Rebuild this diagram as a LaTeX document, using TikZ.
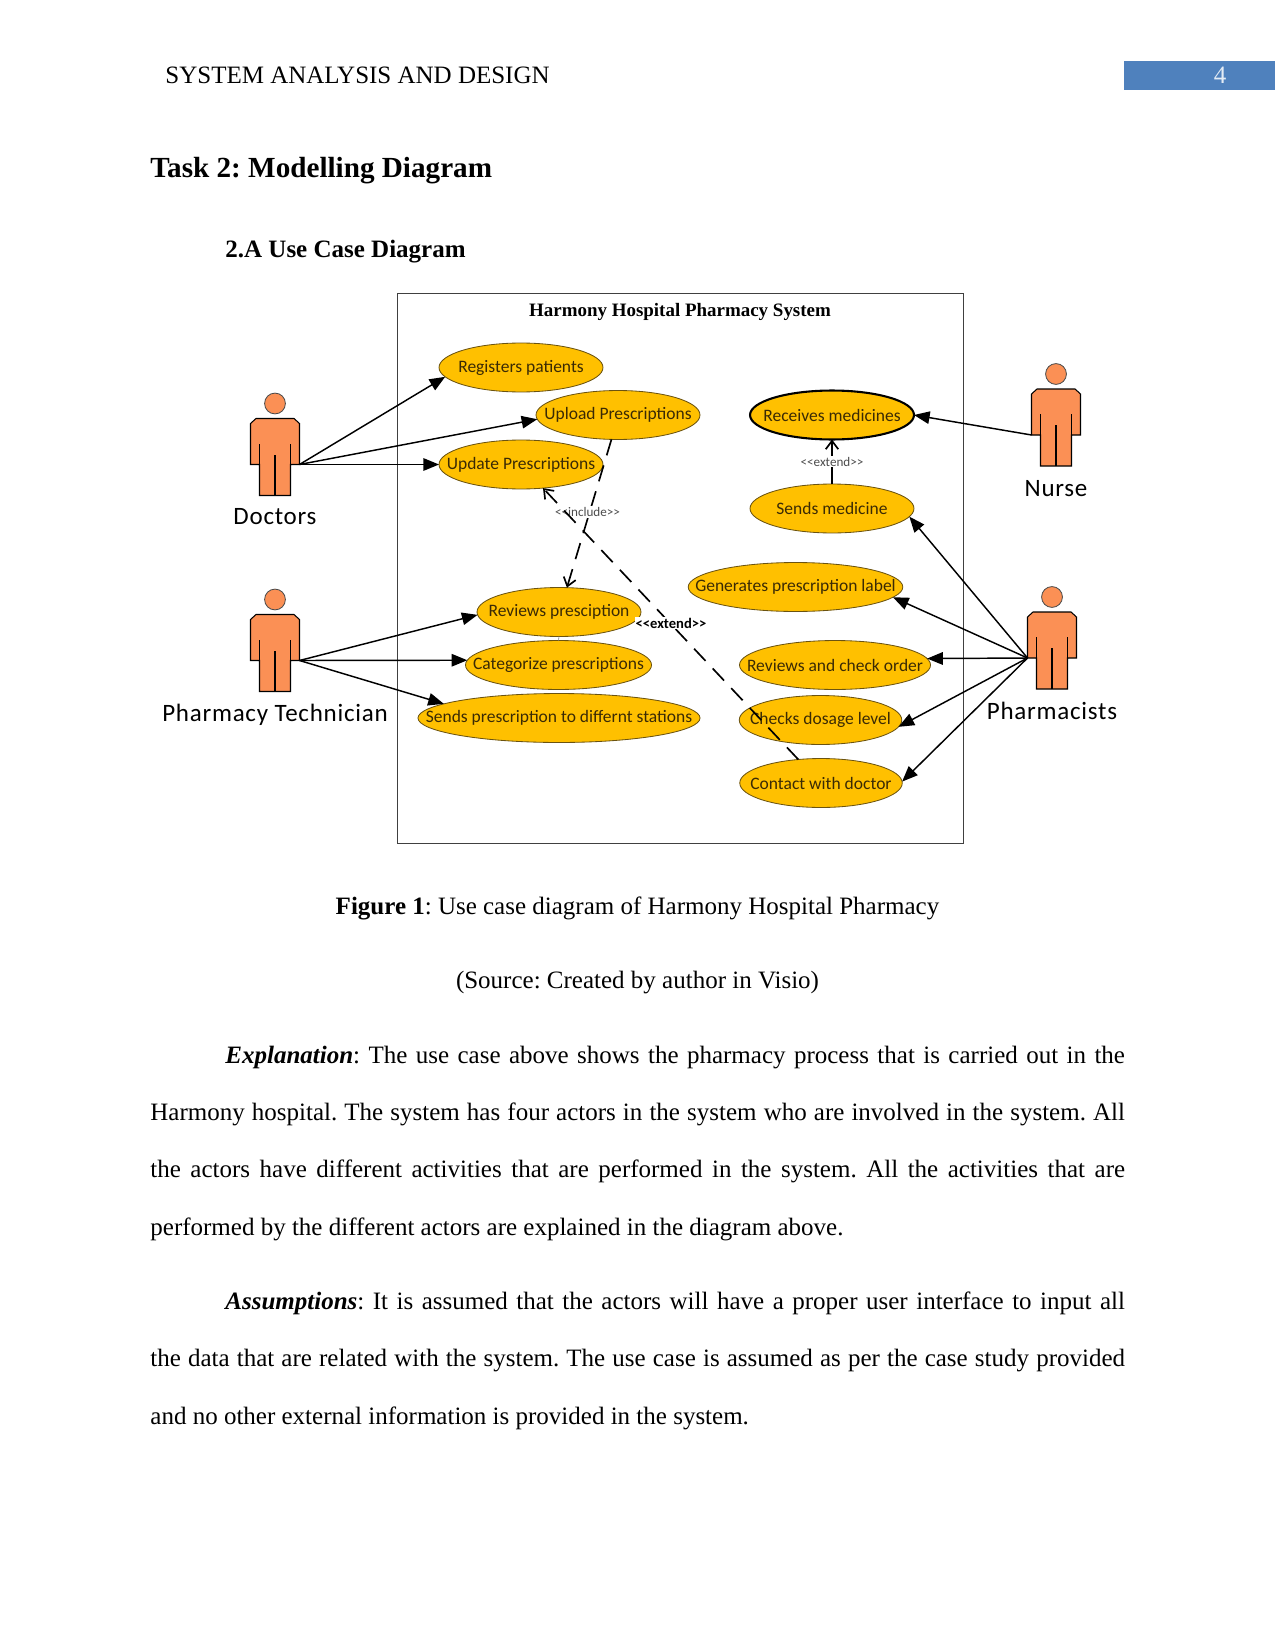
\documentclass[tikz,border=0pt]{standalone}
\usepackage{fontspec}
\setmainfont{Liberation Serif}
\newfontfamily\ucfont{Carlito}
\newfontfamily\actorfont[LetterSpace=3]{Carlito}
\usetikzlibrary{shapes.geometric,arrows.meta}
\frenchspacing

\definecolor{ucfill}{HTML}{FFC000}
\definecolor{ucline}{HTML}{6B5310}
\definecolor{uctext}{HTML}{3A2A05}
\definecolor{actorfill}{HTML}{FB9055}
\definecolor{headerblue}{HTML}{4F81BD}

\tikzset{
	usecase/.style={shape=ellipse,draw=ucline,fill=ucfill,text=uctext,font=\ucfont\fontsize{8.4}{10}\selectfont,
		minimum width=78.7pt,minimum height=23.5pt,inner xsep=-30pt,inner ysep=0pt,outer sep=0pt},
	actorlabel/.style={font=\actorfont\fontsize{12}{14}\selectfont,inner sep=0pt},
	assoc/.style={-{Triangle[length=7.5pt,width=6pt]},line width=0.7pt},
	dep/.style={-{Straight Barb[length=4pt,width=6pt]},line width=0.8pt,dash pattern=on 8pt off 5pt},
	deplabel/.style={fill=white,font=\ucfont\fontsize{6.3}{7}\selectfont,inner sep=0.5pt},
	bodytext/.style={anchor=north west,text width=467.8pt,align=justify,inner sep=0pt,font=\fontsize{12}{27.5}\selectfont},
	pics/actor/.style={code={
		\node[shape=circle,draw=black!70,fill=actorfill,minimum size=10pt,inner sep=0pt] (-head) at (0,0) {};
		\draw[fill=actorfill,line width=0.5pt] (-19,15) -- (19,15) -- (24.5,20) -- (24.5,61) -- (15.5,61) -- (15.5,92)
			-- (-15.5,92) -- (-15.5,61) -- (-24.5,61) -- (-24.5,20) -- cycle;
		\draw[line width=0.5pt] (-15.5,61) -- (-15.5,40) (15.5,61) -- (15.5,40) (0,92) -- (0,51);
		\coordinate (-lhand) at (-24.5,61);
		\coordinate (-rhand) at (24.5,61);
	}}
}

\begin{document}
\begin{tikzpicture}[x=0.48pt,y=-0.48pt]
	\useasboundingbox (0,0) rectangle (1275,1651);

	\fill[headerblue] (1124,61) rectangle (1275,90);
	\node[anchor=west,inner sep=0pt,font=\fontsize{12}{14}\selectfont] (header) at (165,75) {SYSTEM ANALYSIS AND DESIGN};
	\node[text=white!85!headerblue,font=\fontsize{12}{14}\selectfont] (pagenum) at (1220,75) {4};
	\node[anchor=west,inner sep=0pt,font=\bfseries\fontsize{14}{16}\selectfont] (task) at (150,171) {Task 2: Modelling Diagram};
	\node[anchor=west,inner sep=0pt,font=\bfseries\fontsize{12}{14}\selectfont] (sub) at (225,252) {2.A Use Case Diagram};

	\node[draw=black!75,line width=0.4pt,minimum width=271.7pt,minimum height=264pt,inner sep=0pt,outer sep=0pt] (frame) at (680,568) {};
	\node[font=\bfseries\fontsize{9.1}{10}\selectfont] (title) at (680,312) {Harmony Hospital Pharmacy System};

	\node[usecase] (reg) at (521,367.5) {Registers patients};
	\node[usecase] (upload) at (618,415) {Upload Prescriptions};
	\node[usecase] (update) at (521,464.5) {Update Prescriptions};
	\node[usecase,minimum width=78.7pt] (review) at (559,612) {Reviews presciption};
	\node[usecase,minimum width=89.3pt] (categ) at (558.5,665) {Categorize prescriptions};
	\node[usecase,minimum width=135.4pt] (stations) at (559,718) {Sends prescription to differnt stations};
	\node[usecase,draw=black,line width=1pt] (receive) at (832,415) {Receives medicines};
	\node[usecase] (sendmed) at (832,508.5) {Sends medicine};
	\node[usecase,minimum width=103pt] (label) at (795.5,587) {Generates prescription label};
	\node[usecase,minimum width=91.7pt] (order) at (835,665) {Reviews and check order};
	\node[usecase,minimum width=78pt] (dosage) at (820.5,720) {Checks dosage level};
	\node[usecase,minimum width=78pt] (contact) at (821,783) {Contact with doctor};

	\pic (doctors) at (275,403.5) {actor};
	\pic (tech) at (275,599.5) {actor};
	\pic (nurse) at (1056,374) {actor};
	\pic (pharm) at (1052,597) {actor};

	\node[actorlabel] (doctorsname) at (275,517) {Doctors};
	\node[actorlabel] (techname) at (275,714.5) {Pharmacy Technician};
	\node[actorlabel] (nursename) at (1056,488.5) {Nurse};
	\node[actorlabel] (pharmname) at (1052,711) {Pharmacists};

	\path[assoc] (doctors-rhand) edge (reg.187);
	\path[assoc] (doctors-rhand) edge (upload.183);
	\path[assoc] (doctors-rhand) edge (update.180);

	\path[assoc] (tech-rhand) edge (review.182);
	\path[assoc] (tech-rhand) edge (categ.177);
	\path[assoc] (tech-rhand) edge (stations.173);

	\path[assoc] (nurse-lhand) edge (receive.0);

	\path[assoc] (pharm-lhand) edge (sendmed.-6);
	\path[assoc] (pharm-lhand) edge (label.-6);
	\path[assoc] (pharm-lhand) edge (order.4);
	\path[assoc] (pharm-lhand) edge (dosage.-5);
	\path[assoc] (pharm-lhand) edge (contact.1);

	\draw[black!50,line width=0.3pt] (review.south) -- (categ.north);

	\draw[dep] (upload.-105) -- (review.72);
	\node[deplabel,text=black!70] (includelabel) at (587.5,512) {<<include>>};

	\draw[dep] (contact.134) -- (update.-47);
	\node[deplabel,font=\ucfont\bfseries\fontsize{7}{8}\selectfont] (extendlabel) at (671,623) {<<extend>>};

	\draw[dep,dash pattern=] (sendmed.north) -- (receive.south);
	\node[deplabel,text=black!70] (extendtop) at (832,461.5) {<<extend>>};

	\node[font=\fontsize{12}{14}\selectfont] (caption) at (637.5,908) {\textbf{Figure 1}: Use case diagram of Harmony Hospital Pharmacy};
	\node[font=\fontsize{12}{14}\selectfont] (source) at (637.5,982.5) {(Source: Created by author in Visio)};

	\node[bodytext] (explain) at (150,1045.5) {\parindent=36pt\indent\textbf{\textit{Explanation}}: The use case above shows the pharmacy process that is carried out in the\linebreak
		Harmony hospital. The system has four actors in the system who are involved in the system. All\linebreak
		the actors have different activities that are performed in the system. All the activities that are\linebreak
		performed by the different actors are explained in the diagram above.};
	\node[bodytext] (assume) at (150,1291.5) {\parindent=36pt\indent\textbf{\textit{Assumptions}}: It is assumed that the actors will have a proper user interface to input all\linebreak
		the data that are related with the system. The use case is assumed as per the case study provided\linebreak
		and no other external information is provided in the system.};

\end{tikzpicture}
\end{document}
